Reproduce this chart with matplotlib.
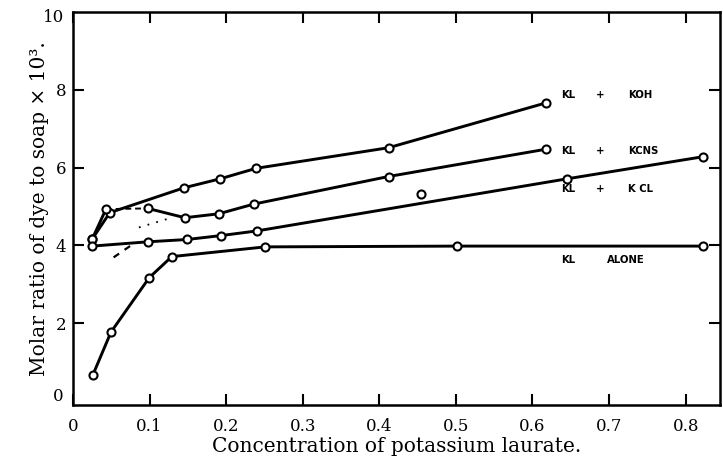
import matplotlib.pyplot as plt

# values
koh_x = [0.025, 0.048, 0.145, 0.192, 0.239, 0.412, 0.617]
koh_y = [4.16, 4.84, 5.48, 5.71, 5.98, 6.51, 7.66]

kcns_x = [0.025, 0.043, 0.0975, 0.146, 0.190, 0.236, 0.412, 0.617]
kcns_y = [4.16, 4.93, 4.95, 4.71, 4.81, 5.06, 5.77, 6.47]

kcl_x = [0.025, 0.0975, 0.149, 0.193, 0.240, 0.645, 0.823]
kcl_y = [3.98, 4.09, 4.15, 4.25, 4.37, 5.71, 6.28]
kcl_stray_x = [0.454]
kcl_stray_y = [5.31]

alone_x = [0.026, 0.0496, 0.0996, 0.129, 0.251, 0.502, 0.823]
alone_y = [0.67, 1.77, 3.17, 3.71, 3.96, 3.98, 3.98]

dash_x = [0.053, 0.0766]
dash_y = [3.69, 4.01]
dot_x = [0.086, 0.127]
dot_y = [4.46, 4.70]

x_ticks = [0, 0.1, 0.2, 0.3, 0.4, 0.5, 0.6, 0.7, 0.8]
y_ticks = [2, 4, 6, 8]

curve_labels = [
    (7.87, 'KL', '+', 'KOH'),
    (6.43, 'KL', '+', 'KCNS'),
    (5.45, 'KL', '+', 'K CL'),
]

plt.rcParams['font.family'] = ['DejaVu Serif']

fig = plt.figure(figsize=(7.23, 4.63), dpi=100)
ax = fig.add_axes([0.101, 0.125, 0.895, 0.849])

line_kw = dict(color='black', lw=2.1, solid_capstyle='round', solid_joinstyle='round')
mark_kw = dict(ls='none', marker='o', ms=5.8, mfc='white', mec='black', mew=1.5, zorder=5)

ax.plot(koh_x, koh_y, **line_kw)
ax.plot(kcns_x[:2], kcns_y[:2], **line_kw)
ax.plot(kcns_x[1:3], kcns_y[1:3], color='black', lw=1.4, ls=(0, (3, 2)))
ax.plot(kcns_x[2:], kcns_y[2:], **line_kw)
ax.plot(kcl_x, kcl_y, **line_kw)
ax.plot(alone_x, alone_y, **line_kw)
ax.plot(dash_x, dash_y, color='black', lw=1.6, ls=(0, (3, 3)))
ax.plot(dot_x, dot_y, color='black', lw=1.3, ls=(0, (1, 4)))

for xs, ys in [(koh_x, koh_y), (kcns_x, kcns_y), (kcl_x, kcl_y),
               (kcl_stray_x, kcl_stray_y), (alone_x, alone_y)]:
    ax.plot(xs, ys, **mark_kw)

lab_kw = dict(fontsize=7.3, fontweight='bold', family='DejaVu Sans', va='center')
for y, a, b, c in curve_labels:
    ax.text(0.638, y, a, ha='left', **lab_kw)
    ax.text(0.688, y, b, ha='center', **lab_kw)
    ax.text(0.7245, y, c, ha='left', **lab_kw)
ax.text(0.638, 3.62, 'KL', ha='left', **lab_kw)
ax.text(0.697, 3.62, 'ALONE', ha='left', **lab_kw)

ax.set_xlim(0, 0.845)
ax.set_ylim(-0.11, 10)

ax.set_xticks(x_ticks)
ax.set_xticklabels([f'{t:g}' for t in x_ticks])
ax.set_yticks(y_ticks)
ax.tick_params(direction='in', length=8, width=1.5, top=True, right=True,
               labelsize=12)
ax.tick_params(axis='x', pad=9)
ax.tick_params(axis='y', pad=5)

# y corner labels without tick marks
ax.text(-0.012, 0.1, '0', ha='right', va='center', fontsize=12)
ax.text(-0.012, 9.85, '10', ha='right', va='center', fontsize=12)

for spine in ax.spines.values():
    spine.set_linewidth(1.8)

ax.set_xlabel('Concentration of potassium laurate.', fontsize=14.5, labelpad=2)
ax.set_ylabel('Molar ratio of dye to soap × 10³.', fontsize=14.5, labelpad=5)

fig.savefig('out.png', dpi=100, facecolor='white')
